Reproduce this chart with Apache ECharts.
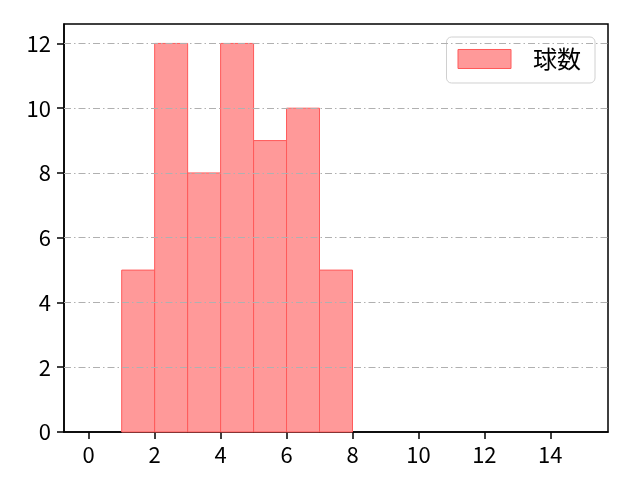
<!DOCTYPE html>
<html><head><meta charset="utf-8">
<script src="https://cdn.jsdelivr.net/npm/echarts@6/dist/echarts.min.js"></script>
<style>html,body{margin:0;padding:0;background:#fff}#c{width:640px;height:480px}</style>
</head><body><div id="c"></div>
<script>
var binStarts = [1, 2, 3, 4, 5, 6, 7];
var binEnds = [2, 3, 4, 5, 6, 7, 8];
var counts = [5, 12, 8, 12, 9, 10, 5];
var xTicks = [0, 2, 4, 6, 8, 10, 12, 14];
var yTicks = [0, 2, 4, 6, 8, 10, 12];
var seriesName = '球数';

var data = binStarts.map(function (s, i) { return [s, binEnds[i], counts[i]]; });
var font = '"Noto Sans CJK JP", "Noto Sans", sans-serif';
var fs = 22;
var chart = echarts.init(document.getElementById('c'));
chart.setOption({
  animation: false,
  grid: { left: 64, right: 32, top: 24, bottom: 48, containLabel: false,
    show: true, borderColor: '#000', borderWidth: 1.5, backgroundColor: 'transparent' },
  xAxis: {
    type: 'value', min: -0.75, max: 15.75,
    axisLine: { show: true, onZero: false, lineStyle: { color: '#000', width: 1.5 } },
    axisTick: { show: true, length: 7, customValues: xTicks, lineStyle: { color: '#000', width: 1.5 } },
    axisLabel: { color: '#000', fontSize: fs, fontFamily: font, margin: 12, customValues: xTicks },
    splitLine: { show: false }
  },
  yAxis: {
    type: 'value', min: 0, max: 12.6,
    axisLine: { show: true, onZero: false, lineStyle: { color: '#000', width: 1.5 } },
    axisTick: { show: true, length: 7, customValues: yTicks, lineStyle: { color: '#000', width: 1.5 } },
    axisLabel: { color: '#000', fontSize: fs, fontFamily: font, margin: 13, customValues: yTicks },
    splitLine: { show: false }
  },
  legend: {
    right: 45, top: 37, orient: 'vertical',
    itemWidth: 53, itemHeight: 19, itemGap: 10,
    padding: [10, 14, 12, 11],
    borderColor: '#d0d0d0', borderWidth: 1, borderRadius: 5,
    backgroundColor: 'rgba(255,255,255,0.8)',
    textStyle: { fontSize: 24, fontFamily: font, color: '#000', padding: [0, 0, 0, 17] },
    data: [{ name: seriesName, icon: 'rect', itemStyle: { color: '#ff9999', borderColor: '#ff5a5a', borderWidth: 1 } }]
  },
  series: [
    {
      type: 'line', silent: true, z: 1,
      data: [],
      markLine: {
        silent: true, symbol: 'none', label: { show: false },
        lineStyle: { color: '#b0b0b0', width: 1, type: [7, 3, 1.5, 3] },
        data: yTicks.filter(function (t) { return t > 0; }).map(function (t) { return { yAxis: t }; })
      }
    },
    {
      name: seriesName, type: 'custom', z: 2,
      itemStyle: { color: '#ff9999', borderColor: '#ff5a5a' },
      renderItem: function (params, api) {
        var p0 = api.coord([api.value(0), api.value(2)]);
        var p1 = api.coord([api.value(1), 0]);
        return {
          type: 'rect',
          shape: { x: p0[0], y: p0[1], width: p1[0] - p0[0], height: p1[1] - p0[1] },
          style: { fill: '#ff9999', stroke: '#ff5a5a', lineWidth: 1 }
        };
      },
      encode: { x: [0, 1], y: 2 },
      data: data
    }
  ]
});
</script></body></html>
